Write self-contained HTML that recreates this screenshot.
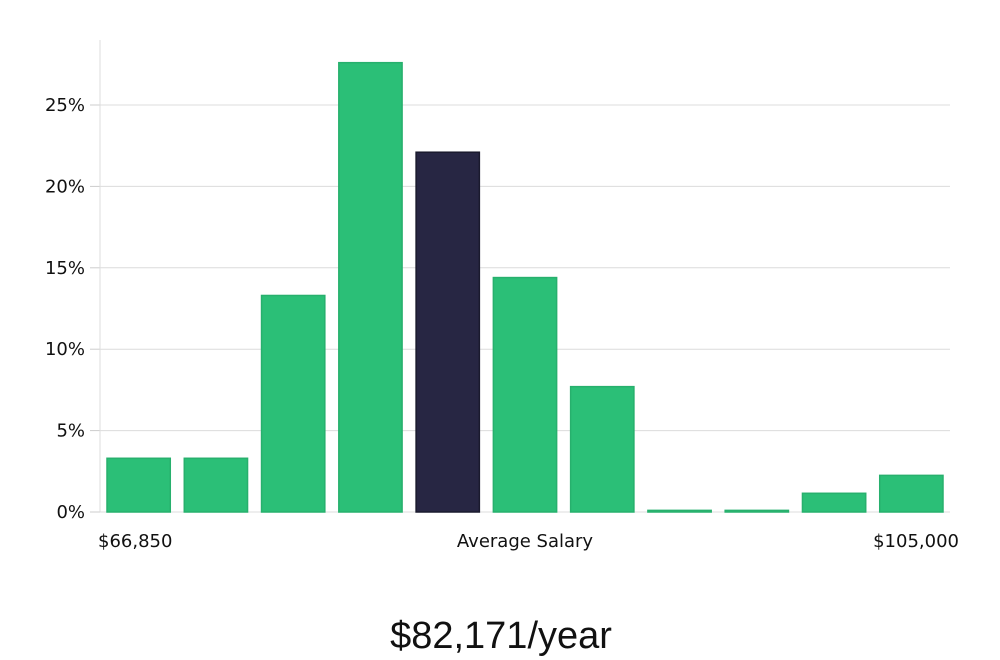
<!DOCTYPE html>
<html><head><meta charset="utf-8"><style>
html,body{margin:0;padding:0;background:#fff;width:1000px;height:660px;overflow:hidden}
svg{display:block}
text{font-family:"DejaVu Sans","Liberation Sans",sans-serif}
</style></head><body>
<svg id="chart" width="1000" height="660" viewBox="0 0 1000 660" xmlns="http://www.w3.org/2000/svg"></svg>
<script>
const categories = ["b1","b2","b3","b4","b5","b6","b7","b8","b9","b10","b11"];
const values = [3.3, 3.3, 13.3, 27.6, 22.1, 14.4, 7.7, 0.1, 0.1, 1.15, 2.25];
const highlightIndex = 4;
const yTicks = [0,5,10,15,20,25];
const yTickLabels = ["0%","5%","10%","15%","20%","25%"];
const xLabels = ["$66,850","Average Salary","$105,000"];
const titleText = "$82,171/year";

const svg = document.getElementById('chart');
const NS = 'http://www.w3.org/2000/svg';
const X0 = 100, X1 = 950, Y0 = 512, PXPER = 16.28;
const y = v => Y0 - v * PXPER;
const slot = (X1 - X0) / categories.length;
const x = i => X0 + i * slot;
function mk(tag, attrs){ const e = document.createElementNS(NS, tag); for (const k in attrs) e.setAttribute(k, attrs[k]); svg.appendChild(e); return e; }

yTicks.forEach((t,i)=>{
  const g = mk('line',{x1:X0,x2:X1,y1:y(t),y2:y(t),stroke:'#dcdcdc','stroke-width':1});
  
  
  const tk = mk('line',{x1:90,x2:X0,y1:y(t),y2:y(t),stroke:'#cccccc','stroke-width':1});
  
  
  const tx = mk('text',{x:85,y:y(t)+6,'text-anchor':'end','font-size':18,fill:'#111'});
  tx.textContent = yTickLabels[i];
  
  
});
const ax = mk('line',{x1:X0,x2:X0,y1:40,y2:Y0,stroke:'#dddddd','stroke-width':1});



values.forEach((v,i)=>{
  const hl = i === highlightIndex;
  const top = y(v);
  const r = mk('rect',{x:x(i)+7,y:top,width:slot-14,height:Math.max(Y0-top,1),
    fill: hl ? '#272643' : '#2bbf77', stroke: hl ? '#1a1a2e' : '#27b06d','stroke-width':1.5});
  
  
});

const xl = [[98,'start'],[525,'middle'],[959,'end']];
xLabels.forEach((l,i)=>{
  const t = mk('text',{x:xl[i][0],y:547,'text-anchor':xl[i][1],'font-size':18,fill:'#111'});
  t.textContent = l;
  
  
});
const title = mk('text',{x:501,y:648,'text-anchor':'middle','font-size':38,fill:'#111','font-weight':300});
title.setAttribute('style','font-family:"Liberation Sans",sans-serif');
title.textContent = titleText;


</script>
</body></html>
